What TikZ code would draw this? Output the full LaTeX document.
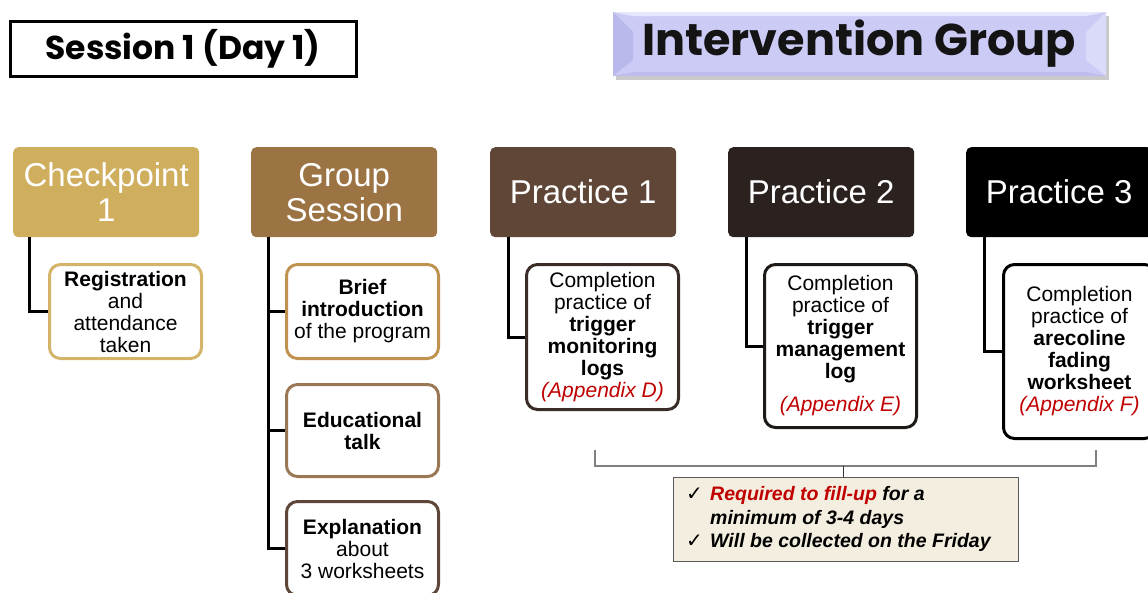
\documentclass[tikz,border=0pt]{standalone}
\usepackage{fontspec}
\setmainfont{Liberation Sans}
\newfontfamily\titlefont{Poppins}
\newfontfamily\symfont{DejaVu Sans}
\definecolor{cpgold}{RGB}{207,174,94}
\definecolor{gsbrown}{RGB}{156,116,68}
\definecolor{ponebrown}{RGB}{95,70,55}
\definecolor{ptwodark}{RGB}{43,33,30}
\definecolor{regline}{RGB}{211,180,104}
\definecolor{briefline}{RGB}{192,146,80}
\definecolor{eduline}{RGB}{155,120,85}
\definecolor{explline}{RGB}{94,71,56}
\definecolor{ponebox}{RGB}{58,45,39}
\definecolor{ptwobox}{RGB}{30,26,24}
\definecolor{apxred}{RGB}{192,0,0}
\definecolor{notefill}{RGB}{243,238,223}
\definecolor{lavmid}{RGB}{203,203,246}
\definecolor{lavdark}{RGB}{184,184,234}
\definecolor{lavlight}{RGB}{218,218,249}
\definecolor{lavtop}{RGB}{230,230,252}
\definecolor{lavbot}{RGB}{190,190,238}
\newcommand{\chk}{{\symfont\mdseries\upshape\fontsize{20}{20}\selectfont ✓}}
\begin{document}
\begin{tikzpicture}[x=1pt,y=-1pt,
  head/.style={rounded corners=5pt, text=white, align=center, inner sep=0pt,
    minimum width=186pt, minimum height=90pt, anchor=north west,
    font=\fontsize{33}{35}\selectfont},
  sub/.style={rounded corners=11pt, fill=white, line width=3pt, align=center,
    inner sep=0pt, minimum width=152pt, anchor=north west,
    font=\fontsize{21}{22}\selectfont},
  link/.style={line width=3pt}]
\useasboundingbox (0,0) rectangle (1148,592);
\clip (0,0) rectangle (1148,592);

% ---- titles ----
\node[draw, line width=3pt, fill=white, minimum width=346pt, minimum height=55pt,
  anchor=north west, inner sep=0pt,
  font=\titlefont\bfseries\fontsize{33}{36}\selectfont] (sess) at (8.5,19.5) {Session 1 (Day 1)};

% bevelled banner
\fill[black!35, opacity=0.6] (616,16) rectangle (1109,80);
\fill[lavmid] (613,12) rectangle (1106,76);
\fill[lavdark] (613,12) -- (633,32) -- (633,60) -- (613,76) -- cycle;
\fill[lavlight] (1106,12) -- (1086,32) -- (1086,60) -- (1106,76) -- cycle;
\fill[lavtop] (613,12) -- (1106,12) -- (1086,16) -- (633,16) -- cycle;
\fill[lavbot] (613,76) -- (1106,76) -- (1086,72) -- (633,72) -- cycle;
\node[font=\titlefont\bfseries\fontsize{44.5}{48}\selectfont, text=black!92] (ig) at (859,44) {Intervention Group};

% ---- column headers ----
\node[head, fill=cpgold] (cp) at (13,147) {Checkpoint\\1};
\node[head, fill=gsbrown] (gs) at (251,147) {Group\\Session};
\node[head, fill=ponebrown] (p1) at (490,147) {Practice 1};
\node[head, fill=ptwodark] (p2) at (728,147) {Practice 2};
\node[head, fill=black] (p3) at (966,147) {Practice 3};

% ---- detail boxes ----
\node[sub, draw=regline, minimum height=94pt] (reg) at (48,263)
  {\textbf{Registration}\\and\\attendance\\taken};
\node[sub, draw=briefline, minimum height=94pt] (brief) at (285,263)
  {\textbf{Brief}\\\textbf{introduction}\\of the program};
\node[sub, draw=eduline, minimum height=92pt] (edu) at (285,383)
  {\textbf{Educational}\\\textbf{talk}};
\node[sub, draw=explline, minimum height=94pt] (expl) at (285,500)
  {\textbf{Explanation}\\about\\3 worksheets};
\node[sub, draw=ponebox, minimum height=145pt] (d1) at (525,263)
  {Completion\\practice of\\\textbf{trigger}\\\textbf{monitoring}\\\textbf{logs}\\\textit{\textcolor{apxred}{(Appendix D)}}};
\node[sub, draw=ptwobox, minimum height=163pt] (d2) at (763,263)
  {Completion\\practice of\\\textbf{trigger}\\\textbf{management}\\\textbf{log}\\[11pt]\textit{\textcolor{apxred}{(Appendix E)}}};
\node[sub, draw=black, minimum height=174pt] (d3) at (1002,263)
  {Completion\\practice of\\\textbf{arecoline}\\\textbf{fading}\\\textbf{worksheet}\\\textit{\textcolor{apxred}{(Appendix F)}}};

% ---- tree connectors ----
\draw[link] ([xshift=-77pt]cp.south) |- (reg.west);
\draw[link] ([xshift=-76pt]gs.south) |- (brief.west);
\draw[link] ([xshift=-76pt]gs.south) |- (edu.west);
\draw[link] ([xshift=-76pt]gs.south) |- (expl.west);
\draw[link] ([xshift=-75pt]p1.south) |- (d1.west);
\draw[link] ([xshift=-75pt]p2.south) |- (d2.west);
\draw[link] ([xshift=-75pt]p3.south) |- (d3.west);

% ---- shared note ----
\node[draw=black!65, line width=1pt, fill=notefill, minimum width=345pt,
  minimum height=84pt, inner sep=0pt] (note) at (845.5,519) {};
\node[anchor=north west, inner sep=0pt, align=left,
  font=\bfseries\itshape\fontsize{19.5}{23.5}\selectfont] (notetxt) at (686,484)
  {\begin{tabular}{@{}p{24pt}@{}l@{}}
   \chk & \textcolor{apxred}{Required to fill-up} for a\\
   & minimum of 3-4 days\\
   \chk & Will be collected on the Friday
   \end{tabular}};
\coordinate (bl) at (595,450);
\coordinate (br) at (1096,450);
\coordinate (bm) at (843,466);
\draw[black!50, line width=1.5pt] (bl) |- (bm) -| (br);
\draw[black!80, line width=1pt] (bm) -- (bm |- note.north);
\end{tikzpicture}
\end{document}
